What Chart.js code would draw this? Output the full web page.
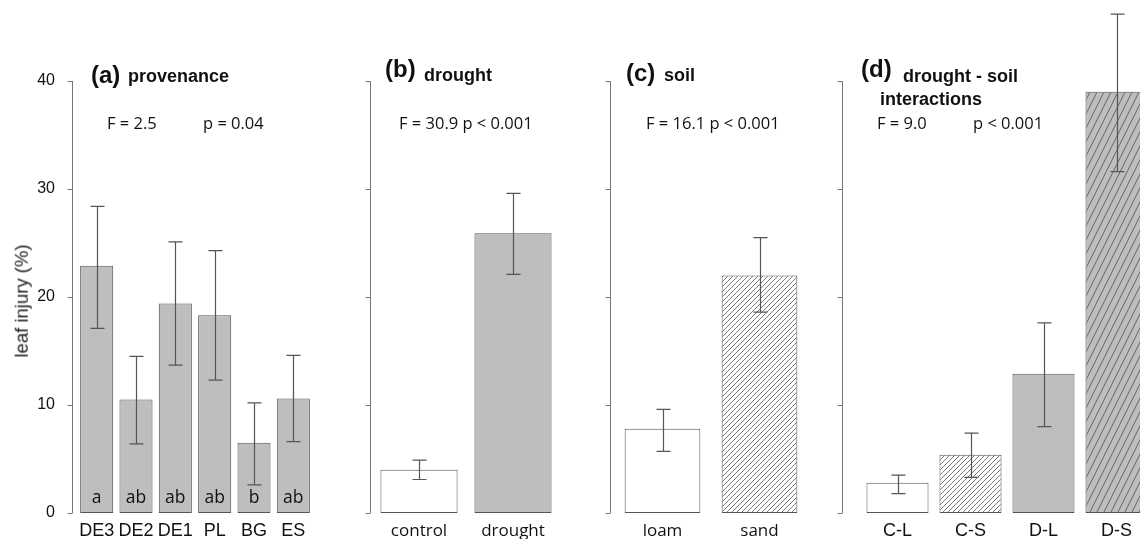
<!DOCTYPE html>
<html>
<head>
<meta charset="utf-8">
<script src="https://cdn.jsdelivr.net/npm/chart.js@4"></script>
<style>
  body { margin: 0; width: 1140px; height: 539px; overflow: hidden; background: #fff; position: relative; }
  canvas { position: absolute; top: 0; }
  .t { position: absolute; white-space: nowrap; line-height: 1; color: #111; }
  .b { font-family: "Liberation Sans", Arial, sans-serif; font-weight: bold; }
  .s { font-family: "Open Sans", sans-serif; font-size: 16.5px; }
</style>
</head>
<body>
<canvas id="pa" width="313" height="539" style="left:0px;width:313px;height:539px"></canvas>
<canvas id="pb" width="208" height="539" style="left:352px;width:208px;height:539px"></canvas>
<canvas id="pc" width="214" height="539" style="left:594px;width:214px;height:539px"></canvas>
<canvas id="pd" width="318" height="539" style="left:835px;width:318px;height:539px"></canvas>

<div class="t b" style="left:91px;top:63px;font-size:24px">(a)</div>
<div class="t b" style="left:128px;top:67px;font-size:18px">provenance</div>
<div class="t s" style="left:107px;top:115px">F = 2.5</div>
<div class="t s" style="left:203px;top:115px">p = 0.04</div>

<div class="t b" style="left:385px;top:57px;font-size:24px">(b)</div>
<div class="t b" style="left:424px;top:66px;font-size:18px">drought</div>
<div class="t s" style="left:399px;top:115px">F = 30.9 p &lt; 0.001</div>

<div class="t b" style="left:626px;top:61px;font-size:24px">(c)</div>
<div class="t b" style="left:664px;top:66px;font-size:18px">soil</div>
<div class="t s" style="left:646px;top:115px">F = 16.1 p &lt; 0.001</div>

<div class="t b" style="left:861px;top:57px;font-size:24px">(d)</div>
<div class="t b" style="left:903px;top:67px;font-size:18px">drought - soil</div>
<div class="t b" style="left:880px;top:90px;font-size:18px">interactions</div>
<div class="t s" style="left:877px;top:115px">F = 9.0</div>
<div class="t s" style="left:973px;top:115px">p &lt; 0.001</div>

<div class="t" style="left:22px;top:301px;font-family:'Liberation Sans',Arial,sans-serif;font-size:18.5px;transform:translate(-50%,-50%) rotate(-90deg);color:#222">leaf injury (%)</div>

<script>
// y axis ticks (same for every panel)
var yTicks = [0, 10, 20, 30, 40];

// (a) provenance
var provLabels = ['DE3', 'DE2', 'DE1', 'PL', 'BG', 'ES'];
var provMean   = [22.9, 10.5, 19.4, 18.3, 6.5, 10.6];
var provUpper  = [28.4, 14.5, 25.1, 24.3, 10.2, 14.6];
var provLower  = [17.1, 6.4, 13.7, 12.3, 2.6, 6.6];
var provLetters = ['a', 'ab', 'ab', 'ab', 'b', 'ab'];

// (b) drought
var droughtLabels = ['control', 'drought'];
var droughtMean   = [4.0, 25.9];
var droughtUpper  = [4.9, 29.6];
var droughtLower  = [3.1, 22.1];

// (c) soil
var soilLabels = ['loam', 'sand'];
var soilMean   = [7.8, 22.0];
var soilUpper  = [9.6, 25.5];
var soilLower  = [5.7, 18.6];

// (d) drought - soil interactions
var interLabels = ['C-L', 'C-S', 'D-L', 'D-S'];
var interMean   = [2.8, 5.4, 12.9, 39.0];
var interUpper  = [3.5, 7.4, 17.6, 46.2];
var interLower  = [1.8, 3.3, 8.0, 31.6];

var GRAY = '#bebebe';
var EDGE = '#555';

function hatch(bg, fg, w, h) {
    var c = document.createElement('canvas');
    c.width = w; c.height = h;
    var g = c.getContext('2d');
    g.fillStyle = bg;
    g.fillRect(0, 0, w, h);
    g.strokeStyle = fg;
    g.lineWidth = 1;
    for (var k = -1; k <= 1; k++) {
        g.beginPath();
        g.moveTo(k * w, h);
        g.lineTo((k + 1) * w, 0);
        g.stroke();
    }
    return g.createPattern(c, 'repeat');
}

var sandFill = hatch('#fff', '#7a7a7a', 5, 5);
var dsFill = hatch(GRAY, '#666', 7, 14);

function makePanel(id, labels, means, upper, lower, fills, o) {
    var plugins = [{
        id: 'decor',
        afterDatasetsDraw: function(chart) {
            var ctx = chart.ctx;
            var ys = chart.scales.y;
            var area = chart.chartArea;
            var ax = Math.round(area.left - o.axisGap) + 0.5;
            ctx.save();
            // axis line with ticks
            ctx.strokeStyle = '#777';
            ctx.lineWidth = 1;
            ctx.beginPath();
            ctx.moveTo(ax, ys.getPixelForValue(yTicks[0]));
            ctx.lineTo(ax, ys.getPixelForValue(yTicks[yTicks.length - 1]));
            yTicks.forEach(function(v) {
                var py = Math.round(ys.getPixelForValue(v)) + 0.5;
                ctx.moveTo(ax - 5, py);
                ctx.lineTo(ax, py);
            });
            ctx.stroke();
            // error bars
            var meta = chart.getDatasetMeta(0);
            ctx.strokeStyle = '#555';
            ctx.lineWidth = 1.2;
            meta.data.forEach(function(bar, i) {
                var x = Math.round(bar.x) + 0.5;
                var yu = ys.getPixelForValue(upper[i]);
                var yl = ys.getPixelForValue(lower[i]);
                ctx.beginPath();
                ctx.moveTo(x, yu); ctx.lineTo(x, yl);
                ctx.moveTo(x - 7, yu); ctx.lineTo(x + 7, yu);
                ctx.moveTo(x - 7, yl); ctx.lineTo(x + 7, yl);
                ctx.stroke();
                if (o.letters) {
                    ctx.fillStyle = '#111';
                    ctx.font = '17.5px "Open Sans", sans-serif';
                    ctx.textAlign = 'center';
                    ctx.textBaseline = 'alphabetic';
                    ctx.fillText(o.letters[i], bar.x, ys.getPixelForValue(0) - 10);
                }
            });
            ctx.restore();
        }
    }];

    return new Chart(document.getElementById(id), {
        type: 'bar',
        data: {
            labels: labels,
            datasets: [{
                data: means,
                backgroundColor: fills,
                borderColor: EDGE,
                borderWidth: 1,
                borderSkipped: false,
                categoryPercentage: 1.0,
                barPercentage: o.barPct,
            }],
        },
        options: {
            responsive: false,
            animation: false,
            events: [],
            layout: { padding: { top: 81, left: 0, right: 0, bottom: 0 } },
            plugins: { legend: { display: false }, tooltip: { enabled: false } },
            scales: {
                x: {
                    grid: { display: false },
                    border: { display: false },
                    ticks: {
                        color: '#111',
                        font: o.xFont,
                        padding: o.xPad,
                        maxRotation: 0,
                        autoSkip: false,
                    },
                    afterFit: function(s) { s.height = 26; },
                },
                y: {
                    min: 0,
                    max: 40,
                    grid: { display: false },
                    border: { display: false },
                    ticks: {
                        display: o.yLabels,
                        color: '#111',
                        padding: 14,
                        font: { family: '"Liberation Sans", Arial, sans-serif', size: 16 },
                    },
                    afterBuildTicks: function(s) { s.ticks = yTicks.map(function(v) { return { value: v }; }); },
                    afterFit: function(s) { s.width = o.axisWidth; },
                },
            },
        },
        plugins: plugins,
    });
}

var arial18 = { family: '"Liberation Sans", Arial, sans-serif', size: 18 };
var sans17 = { family: '"Open Sans", sans-serif', size: 17 };

makePanel('pa', provLabels, provMean, provUpper, provLower,
    provLabels.map(function() { return GRAY; }),
    { axisWidth: 77, axisGap: 5, barPct: 0.84, yLabels: true, letters: provLetters, xFont: arial18, xPad: -1 });

makePanel('pb', droughtLabels, droughtMean, droughtUpper, droughtLower,
    ['#fff', GRAY],
    { axisWidth: 20, axisGap: 2, barPct: 0.82, yLabels: false, xFont: sans17, xPad: 0 });

makePanel('pc', soilLabels, soilMean, soilUpper, soilLower,
    ['#fff', sandFill],
    { axisWidth: 20, axisGap: 4, barPct: 0.78, yLabels: false, xFont: sans17, xPad: 0 });

makePanel('pd', interLabels, interMean, interUpper, interLower,
    ['#fff', sandFill, GRAY, dsFill],
    { axisWidth: 26, axisGap: 19, barPct: 0.85, yLabels: false, xFont: arial18, xPad: -1 });
</script>
</body>
</html>
